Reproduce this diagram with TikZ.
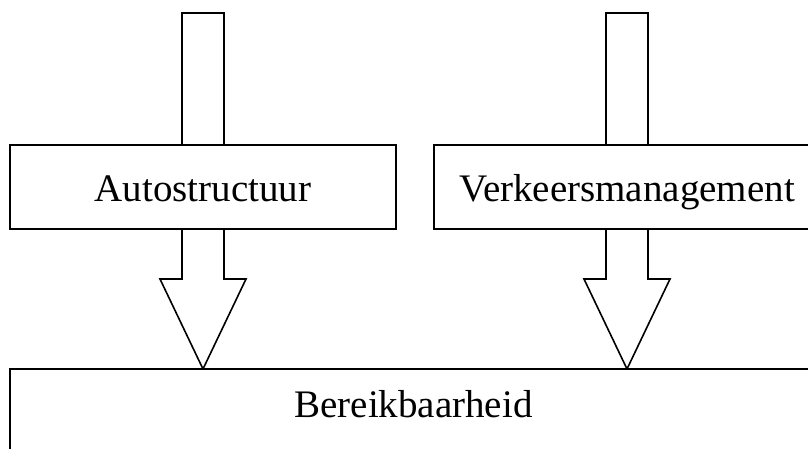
\documentclass[tikz,border=0pt]{standalone}
\usepackage{fontspec}
\setmainfont{Liberation Serif}
\begin{document}
\begin{tikzpicture}[x=1pt,y=-1pt,line width=1.6pt,
  boxnode/.style={draw,fill=white,minimum height=84pt,inner sep=0pt,
    font=\fontsize{39}{47}\selectfont},
  hollowarrow/.style={draw,fill=white,line join=miter}]
\useasboundingbox (0,0) rectangle (808,448);
\clip (0,0) rectangle (808,448);
% hollow arrows (drawn first, boxes cover them)
\draw[hollowarrow] (182,13) -- (224,13) -- (224,279) -- (246,279) -- (203,369) -- (160,279) -- (182,279) -- cycle;
\draw[hollowarrow] (606,13) -- (648,13) -- (648,279) -- (670,279) -- (627,369) -- (584,279) -- (606,279) -- cycle;
% boxes
\node[boxnode,minimum width=386pt,text height=28pt,text depth=0pt] (auto) at (203,187) {Autostructuur};
\node[boxnode,minimum width=386pt,text height=28pt,text depth=0pt] (verk) at (627,187) {Verkeersmanagement};
\node[boxnode,minimum width=807pt,text height=40pt,text depth=28pt] (ber) at (413.5,411) {Bereikbaarheid};
\end{tikzpicture}
\end{document}
